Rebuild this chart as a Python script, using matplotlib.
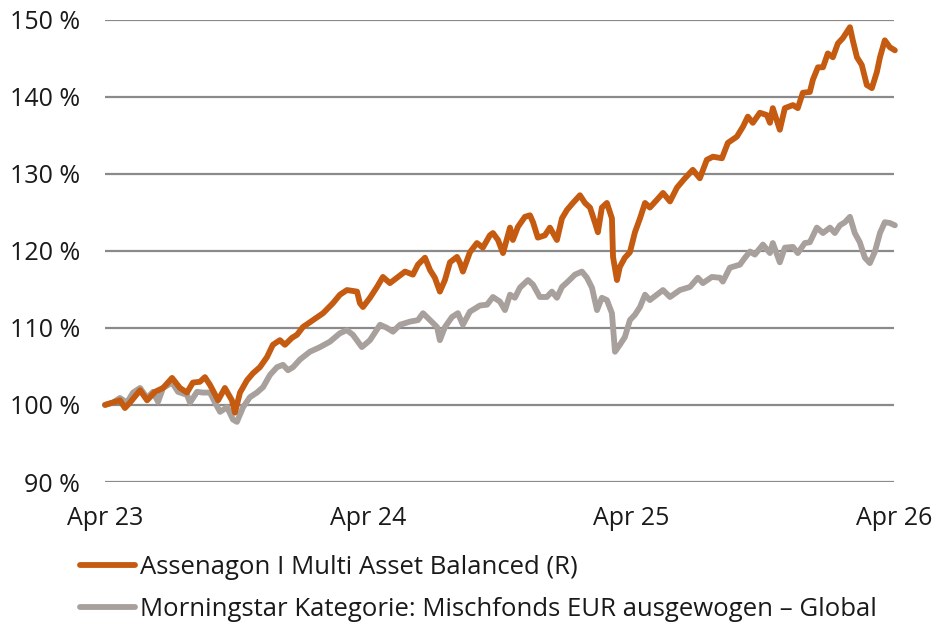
import matplotlib
matplotlib.use("Agg")
import matplotlib.pyplot as plt

plt.rcParams['font.family'] = ['Open Sans', 'DejaVu Sans']

# x: months since April 2023
assenagon_months = [0.0, 0.68, 0.91, 1.14, 1.60, 1.92, 2.28, 2.65, 3.06, 3.42, 3.74, 4.01, 4.33, 4.56, 4.79,
    5.16, 5.47, 5.79, 5.93, 6.16, 6.48, 6.75, 7.07, 7.39, 7.66, 7.98, 8.21, 8.53, 8.76, 9.03, 9.49, 9.95,
    10.40, 10.72, 11.04, 11.50, 11.63, 11.77, 12.09, 12.41, 12.68, 13.00, 13.32, 13.69, 14.05, 14.28, 14.60,
    14.83, 15.05, 15.28, 15.51, 15.74, 16.06, 16.20, 16.33, 16.65, 16.97, 17.24, 17.56, 17.70, 17.93, 18.16,
    18.48, 18.61, 18.84, 19.16, 19.39, 19.53, 19.75, 20.07, 20.30, 20.62, 20.85, 21.08, 21.35, 21.67, 21.90,
    22.13, 22.35, 22.49, 22.67, 22.90, 23.13, 23.18, 23.36, 23.49, 23.72, 23.95, 24.18, 24.41, 24.64, 24.86,
    25.18, 25.46, 25.78, 26.10, 26.46, 26.82, 27.14, 27.46, 27.74, 28.15, 28.42, 28.83, 29.11, 29.33, 29.56,
    29.88, 30.20, 30.34, 30.47, 30.79, 31.02, 31.39, 31.61, 31.84, 32.16, 32.30, 32.53, 32.76, 32.98, 33.21,
    33.44, 33.67, 33.99, 34.12, 34.31, 34.53, 34.76, 34.99, 35.22, 35.36, 35.58, 35.81, 36.04]
assenagon_values = [100.0, 100.6, 99.6, 100.3, 101.9, 100.6, 101.7, 102.2, 103.5, 102.2, 101.6, 102.9, 103.0,
    103.6, 102.6, 100.6, 102.2, 100.6, 99.0, 101.6, 103.2, 104.1, 104.9, 106.2, 107.8, 108.4, 107.8, 108.7,
    109.1, 110.1, 111.0, 111.9, 113.2, 114.3, 114.9, 114.7, 113.2, 112.7, 113.9, 115.3, 116.6, 115.8, 116.5,
    117.3, 116.9, 118.2, 119.1, 117.5, 116.5, 114.7, 116.2, 118.5, 119.2, 118.4, 117.3, 119.8, 121.0, 120.4,
    122.0, 122.3, 121.4, 119.7, 123.0, 121.4, 123.1, 124.4, 124.6, 123.7, 121.7, 122.0, 123.0, 121.4, 124.2,
    125.3, 126.2, 127.2, 126.2, 125.6, 123.7, 122.4, 125.6, 126.2, 124.2, 119.2, 116.2, 117.9, 119.1, 119.8,
    122.4, 124.2, 126.2, 125.6, 126.6, 127.5, 126.4, 128.2, 129.4, 130.5, 129.4, 131.8, 132.2, 132.0, 134.0,
    134.8, 136.1, 137.4, 136.6, 137.9, 137.6, 136.6, 138.5, 135.7, 138.5, 138.9, 138.5, 140.5, 140.6, 142.2,
    143.8, 143.8, 145.6, 145.1, 146.9, 147.6, 149.0, 147.3, 145.1, 144.1, 141.5, 141.1, 143.2, 145.1, 147.3,
    146.4, 146.0]

category_months = [0.0, 0.36, 0.68, 1.00, 1.28, 1.60, 1.92, 2.19, 2.42, 2.65, 3.06, 3.33, 3.74, 3.88, 4.20,
    4.47, 4.79, 5.02, 5.25, 5.57, 5.84, 6.02, 6.30, 6.61, 6.93, 7.21, 7.53, 7.85, 8.12, 8.35, 8.58, 8.90,
    9.35, 9.81, 10.26, 10.72, 11.04, 11.31, 11.72, 12.09, 12.55, 12.86, 13.14, 13.46, 13.91, 14.28, 14.51,
    14.83, 15.15, 15.28, 15.51, 15.83, 16.10, 16.33, 16.65, 17.11, 17.43, 17.70, 18.02, 18.25, 18.48, 18.70,
    18.93, 19.30, 19.53, 19.84, 20.16, 20.39, 20.62, 20.85, 21.12, 21.44, 21.76, 21.99, 22.22, 22.45, 22.67,
    22.90, 23.13, 23.27, 23.49, 23.72, 23.95, 24.18, 24.41, 24.64, 24.86, 25.18, 25.46, 25.78, 26.23, 26.69,
    27.05, 27.28, 27.69, 28.06, 28.19, 28.51, 28.97, 29.20, 29.43, 29.65, 30.02, 30.34, 30.47, 30.79, 31.02,
    31.39, 31.61, 31.93, 32.16, 32.48, 32.76, 33.08, 33.30, 33.53, 33.76, 33.99, 34.21, 34.44, 34.67, 34.90,
    35.13, 35.36, 35.58, 35.81, 36.04]
category_values = [100.0, 100.3, 100.9, 100.3, 101.6, 102.2, 100.9, 101.7, 100.4, 102.2, 102.9, 101.7, 101.3,
    100.3, 101.7, 101.6, 101.6, 100.3, 99.1, 99.7, 98.1, 97.8, 99.7, 101.0, 101.6, 102.3, 103.9, 104.9, 105.2,
    104.5, 104.9, 105.9, 106.9, 107.5, 108.2, 109.3, 109.7, 109.1, 107.5, 108.4, 110.4, 110.0, 109.5, 110.4,
    110.8, 111.0, 111.9, 111.0, 110.1, 108.4, 110.1, 111.4, 111.9, 110.4, 112.1, 112.9, 113.0, 114.0, 113.4,
    112.3, 114.3, 113.9, 115.2, 116.2, 115.6, 114.0, 114.0, 114.7, 113.9, 115.3, 116.0, 116.9, 117.3, 116.5,
    115.2, 112.3, 113.9, 113.6, 111.9, 106.9, 107.8, 108.8, 111.0, 111.7, 112.7, 114.3, 113.6, 114.3, 114.9,
    114.0, 114.9, 115.3, 116.5, 115.8, 116.6, 116.5, 116.0, 117.8, 118.2, 119.1, 119.9, 119.5, 120.8, 119.7,
    121.0, 118.5, 120.4, 120.5, 119.7, 121.0, 121.1, 123.0, 122.3, 123.0, 122.3, 123.3, 123.7, 124.4, 122.3,
    121.1, 119.1, 118.4, 119.9, 122.3, 123.7, 123.6, 123.3]

series_labels = ["Assenagon I Multi Asset Balanced (R)",
                 "Morningstar Kategorie: Mischfonds EUR ausgewogen \u2013 Global"]
x_tick_months = [0, 12, 24, 36]
x_tick_labels = ["Apr 23", "Apr 24", "Apr 25", "Apr 26"]
y_ticks = [90, 100, 110, 120, 130, 140, 150]
y_tick_labels = ["90 %", "100 %", "110 %", "120 %", "130 %", "140 %", "150 %"]

ORANGE = "#C55A11"
GRAY = "#A8A09C"
GRID = "#8A8A8A"
TEXT = "#1A1A1A"
FS = 18

fig = plt.figure(figsize=(9.32, 6.23), dpi=100)
ax = fig.add_axes([105/932, 1-482/623, (894-105)/932, (482-19.5)/623])

l1, = ax.plot(assenagon_months, assenagon_values, color=ORANGE, lw=4.2, solid_joinstyle='round',
              solid_capstyle='round', clip_on=False, zorder=4)
l2, = ax.plot(category_months, category_values, color=GRAY, lw=4.2, solid_joinstyle='round',
              solid_capstyle='round', clip_on=False, zorder=3)

ax.set_xlim(0, 36)
ax.set_ylim(90, 150)
ax.set_yticks(y_ticks)
ax.set_yticklabels(y_tick_labels)
ax.set_xticks(x_tick_months)
ax.set_xticklabels(x_tick_labels)
for s in ax.spines.values():
    s.set_visible(False)
ax.grid(axis='y', color=GRID, lw=1.6, zorder=1)
ax.set_axisbelow(True)
ax.tick_params(axis='both', length=0, labelsize=FS, labelcolor=TEXT)
ax.tick_params(axis='y', pad=18)
ax.tick_params(axis='x', pad=17)

fig.legend([l1, l2], series_labels, loc='upper left', bbox_to_anchor=(80/932, 1-555/623),
           frameon=False, fontsize=18.5, handlelength=2.15, handletextpad=0.2, labelspacing=0.68,
           borderaxespad=0, borderpad=0, labelcolor=TEXT)

fig.savefig("out.png", dpi=100)
